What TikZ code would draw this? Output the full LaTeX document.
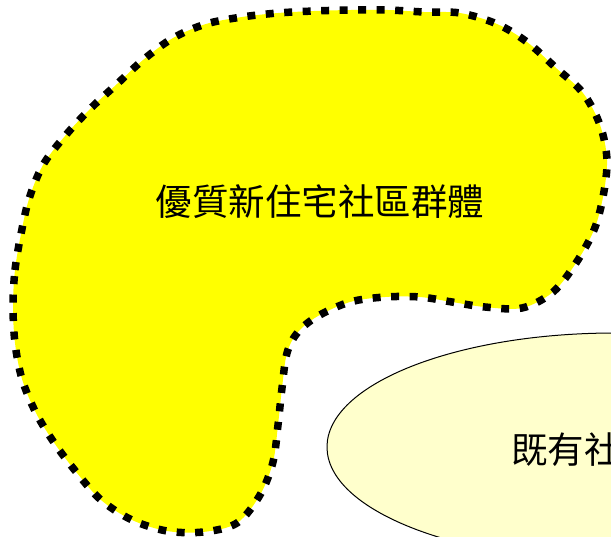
\documentclass[tikz,border=0pt]{standalone}
\usepackage{fontspec}
\newfontfamily\cjk{Noto Sans CJK TC}
\usetikzlibrary{shapes.geometric}
\definecolor{blobyellow}{RGB}{255,255,0}
\definecolor{paleyellow}{RGB}{255,255,204}
\begin{document}
\begin{tikzpicture}[x=1pt,y=-1pt,
  blob/.style={fill=blobyellow, draw=black, line width=7.5pt, dash pattern=on 8pt off 10.5pt},
  oval/.style={ellipse, draw=black, line width=1pt, fill=paleyellow, inner sep=0pt},
  label/.style={font=\cjk\fontsize{36.5}{36.5}\selectfont, inner sep=0pt, text=black}]
\useasboundingbox (0,0) rectangle (611,536);
\clip (0,0) rectangle (611,536);
\draw[blob] plot[smooth cycle, tension=0.55] coordinates {
 (13,306) (15,270) (21,234) (29,199) (43,165) (65,136) (90,109) (117,84) (143,60) (173,38)
 (206,24) (242,17) (278,13) (314,11) (351,10) (388,10) (424,12) (460,13) (497,24) (527,42)
 (555,67) (583,93) (600,125) (607,160) (603,197) (594,230) (576,263) (553,292) (522,308)
 (485,307) (452,302) (420,297) (385,297) (350,302) (318,316) (298,332) (287,353) (282,388)
 (278,425) (273,462) (260,495) (237,523) (203,532) (167,531) (132,520) (101,500) (77,473)
 (55,444) (36,413) (22,379) (15,343)};
\node[label] (main) at (320,202) {優質新住宅社區群體};
\node[oval, minimum width=576pt, minimum height=228pt] (exist) at (615,447) {};
\node[label, anchor=west] (existtext) at (511,450) {既有社};
\end{tikzpicture}
\end{document}
